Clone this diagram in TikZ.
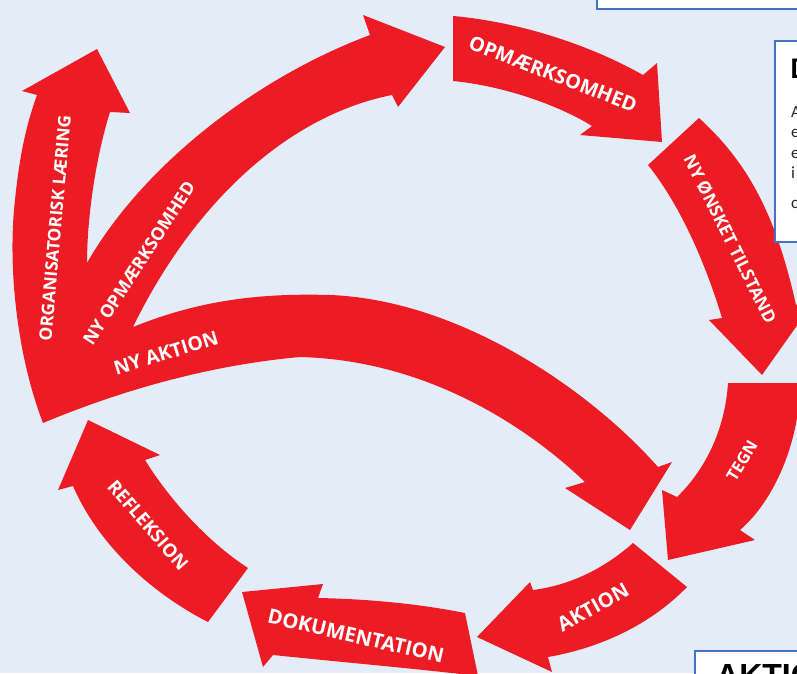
\documentclass[tikz,border=0pt]{standalone}
\usepackage{fontspec}
\usepackage{graphicx}
\newfontfamily\lblfont{Open Sans}
\newfontfamily\boxfont{Carlito}
\newfontfamily\headfont{Liberation Sans}
\definecolor{bgblue}{RGB}{228,236,247}
\definecolor{arrowred}{RGB}{237,28,36}
\definecolor{boxline}{RGB}{68,114,196}
\definecolor{boxtext}{RGB}{40,40,40}
\newcommand{\arrowlbl}[2]{\resizebox{#1pt}{!}{\lblfont\bfseries #2}}
\begin{document}
\begin{tikzpicture}[x=1pt,y=-1pt,
  redarrow/.style={fill=arrowred, draw=none},
  lbl/.style={text=white, inner sep=0pt, anchor=center},
  infobox/.style={fill=white, draw=boxline, line width=1.5pt},
  boxtxt/.style={inner sep=0pt, anchor=base west, text=boxtext, font=\boxfont\fontsize{17}{17}\selectfont},
]
\useasboundingbox (0,0) rectangle (797,673);
\clip (0,0) rectangle (797,673);
\fill[bgblue] (0,0) rectangle (797,673);

% OPMAERKSOMHED
\fill[redarrow] (453,16) .. controls (520,22) and (590,45) .. (643,75) -- (657,63) -- (662,142) -- (580,135) -- (592,126) .. controls (560,106) and (505,86) .. (453,81) -- cycle;
% NY ONSKET TILSTAND
\fill[redarrow] (648,165) -- (699,118) .. controls (745,160) and (775,210) .. (796,305) -- (815,300) -- (762,375) -- (709,320) -- (722,318) .. controls (705,262) and (680,205) .. (648,165) -- cycle;
% TEGN
\fill[redarrow] (728,383) -- (800,383) .. controls (800,440) and (775,500) .. (740,530) -- (755,540) -- (668,560) -- (662,490) -- (677,497) .. controls (705,470) and (725,430) .. (728,383) -- cycle;
% AKTION
\fill[redarrow] (633,543) -- (687,587) .. controls (650,625) and (600,648) .. (548,657) -- (552,672) -- (477,637) -- (530,582) -- (533,590) .. controls (572,585) and (606,567) .. (633,543) -- cycle;
% DOKUMENTATION
\fill[redarrow] (465,613) .. controls (420,604) and (370,599) .. (318,598) -- (323,584) -- (242,592) -- (263,667) -- (273,655) .. controls (340,662) and (410,668) .. (478,676) -- cycle;
% REFLEKSION
\fill[redarrow] (248,568) -- (208,622) .. controls (155,595) and (100,548) .. (73,486) -- (58,490) -- (88,420) -- (160,455) -- (145,460) .. controls (168,497) and (205,540) .. (248,568) -- cycle;
% composite arrow: organisatorisk laering / ny opmaerksomhed / ny aktion
\fill[redarrow] (43,423) .. controls (15,350) and (8,260) .. (15,200) .. controls (20,150) and (28,120) .. (37,95) -- (22,91) -- (97,49) -- (130,113) -- (110,112) .. controls (95,160) and (87,220) .. (87,263) .. controls (140,170) and (250,80) .. (370,35) -- (363,15) -- (445,47) -- (398,107) -- (392,95) .. controls (290,115) and (195,200) .. (133,327) .. controls (200,300) and (260,293) .. (330,295) .. controls (460,300) and (590,390) .. (658,467) -- (672,462) -- (630,530) -- (565,488) -- (585,482) .. controls (520,420) and (420,360) .. (300,357) .. controls (200,366) and (110,395) .. (43,423) -- cycle;

% labels
\node[lbl, rotate=-21] (l1) at (553,74) {\arrowlbl{178}{OPMÆRKSOMHED}};
\node[lbl, rotate=-63.5] (l2) at (730,239) {\arrowlbl{186}{NY ØNSKET TILSTAND}};
\node[lbl, rotate=59] (l3) at (742,461) {\arrowlbl{44}{TEGN}};
\node[lbl, rotate=29] (l4) at (593,607) {\arrowlbl{78}{AKTION}};
\node[lbl, rotate=-13] (l5) at (356,636) {\arrowlbl{180}{DOKUMENTATION}};
\node[lbl, rotate=-49] (l6) at (148,525) {\arrowlbl{112}{REFLEKSION}};
\node[lbl, rotate=85] (l7) at (55,228) {\arrowlbl{226}{ORGANISATORISK LÆRING}};
\node[lbl, rotate=57] (l8) at (139,263) {\arrowlbl{190}{NY OPMÆRKSOMHED}};
\node[lbl, rotate=17] (l9) at (166,353) {\arrowlbl{108}{NY AKTION}};

% partially visible boxes
\draw[infobox] (597,-10) rectangle (815,9);
\draw[infobox] (775,41) rectangle (815,242);
\draw[infobox] (695,651) rectangle (815,700);

\node[inner sep=0pt, anchor=base west, font=\boxfont\bfseries\fontsize{30}{30}\selectfont] (h1) at (790.5,78) {D};
\node[boxtxt] (t1) at (791,117) {A};
\node[boxtxt] (t2) at (791,137) {e};
\node[boxtxt] (t3) at (791,158) {e};
\node[boxtxt] (t4) at (791,178) {i};
\node[boxtxt] (t5) at (791,208) {c};
\node[inner sep=0pt, anchor=base west, font=\headfont\bfseries\fontsize{32}{32}\selectfont] (h2) at (716,686) {AKTION};
\end{tikzpicture}
\end{document}
